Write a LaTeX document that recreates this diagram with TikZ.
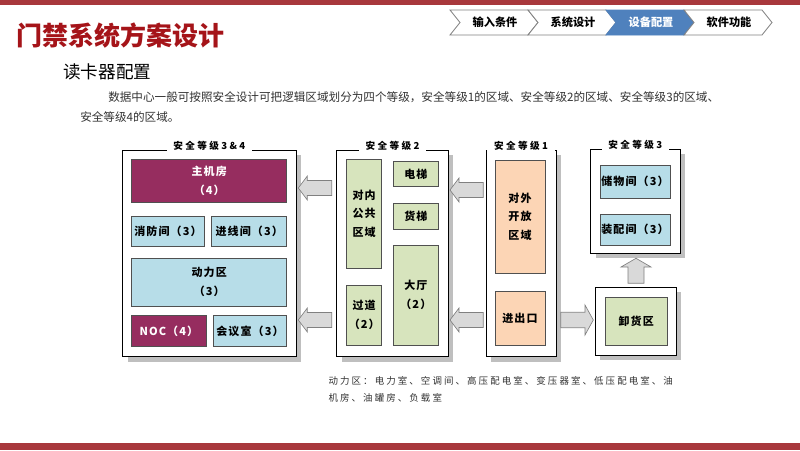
\documentclass[tikz,border=0pt]{standalone}
\usepackage{fontspec}
\setmainfont{Noto Sans CJK SC}
\newfontfamily\labfont[LetterSpace=10]{Noto Sans CJK SC}
\newfontfamily\ttlfont[LetterSpace=25]{Noto Sans CJK SC}
\newfontfamily\capfont[LetterSpace=22]{Noto Sans CJK SC}
\definecolor{barred}{RGB}{168,56,60}
\definecolor{titlered}{RGB}{165,20,25}
\definecolor{maroon}{RGB}{150,45,95}
\definecolor{lblue}{RGB}{183,221,232}
\definecolor{lgreen}{RGB}{215,228,189}
\definecolor{peach}{RGB}{252,213,181}
\definecolor{chevblue}{RGB}{79,129,189}
\definecolor{shadowgray}{RGB}{191,191,191}
\definecolor{arrowgray}{RGB}{217,217,217}
\definecolor{txtgray}{RGB}{50,50,50}
\definecolor{boxline}{RGB}{80,80,80}
\tikzset{
  outerbox/.style={draw=black, line width=0.6pt, fill=white, inner sep=0pt},
  zonetitle/.style={fill=white, inner xsep=5pt, inner ysep=1pt, font=\ttlfont\bfseries\fontsize{7.2}{8}\selectfont},
  room/.style={draw=boxline, line width=0.6pt, inner sep=0pt, align=center,
     font=\labfont\bfseries\fontsize{8.25}{14}\selectfont},
  redroom/.style={room, fill=maroon, text=white},
  blueroom/.style={room, fill=lblue},
  greenroom/.style={room, fill=lgreen},
  peachroom/.style={room, fill=peach},
  blockarrow/.style={draw=gray, line width=0.5pt, fill=arrowgray, line join=miter},
  chevwhite/.style={draw=gray, line width=0.6pt, fill=white},
  chevfill/.style={draw=chevblue, line width=0.6pt, fill=chevblue},
  chevtext/.style={font=\bfseries\fontsize{8.4}{10}\selectfont, inner sep=0pt},
}
\newcommand\zbox[7]{%
  \pgfmathsetmacro\zw{(#4-#2)*0.75}\pgfmathsetmacro\zh{(#5-#3)*0.75}%
  \node[#6, minimum width=\zw pt, minimum height=\zh pt] (#1) at ({(#2+#4)/2},{(#3+#5)/2}) {#7};}
\newcommand\zonebox[6]{%
  \fill[shadowgray] (#2+5,#3+5) rectangle (#4+5,#5+5);
  \zbox{#1}{#2}{#3}{#4}{#5}{outerbox}{}
  \node[zonetitle] (#1t) at ({(#2+#4)/2},#3-4) {#6};}
\newcommand\larrow[3]{%
  \draw[blockarrow] (#1,#2) -- (#1+9,#2-12) -- (#1+9,#2-7.5) -- (#3,#2-7.5) -- (#3,#2+7.5) -- (#1+9,#2+7.5) -- (#1+9,#2+12) -- cycle;}
\newcommand\chev[4]{%
  \draw[#2] (#1,10) -- (#1+78,10) -- (#1+88,22.5) -- (#1+78,35) -- (#1,35) -- (#1+10,22.5) -- cycle;
  \node[chevtext] (#3) at (#1+45,22.5) {#4};}
\begin{document}
\begin{tikzpicture}[x=0.75pt,y=-0.75pt]
\useasboundingbox (0,0) rectangle (800,450);
% bars
\fill[barred] (0,0) rectangle (800,5);
\fill[barred] (0,443) rectangle (800,450);
% titles
\node[anchor=west, inner sep=0pt, text=titlered, font=\bfseries\fontsize{19.5}{22}\selectfont] (title) at (16,36) {门禁系统方案设计};
\node[anchor=west, inner sep=0pt, font=\fontsize{13.2}{15}\selectfont] (subtitle) at (63,72) {读卡器配置};
\node[anchor=west, inner sep=0pt, text=txtgray, font=\fontsize{8.7}{11}\selectfont] (para1) at (108,97) {数据中心一般可按照安全设计可把逻辑区域划分为四个等级，安全等级1的区域、安全等级2的区域、安全等级3的区域、};
\node[anchor=west, inner sep=0pt, text=txtgray, font=\fontsize{8.7}{11}\selectfont] (para2) at (80,117) {安全等级4的区域。};
% chevrons
\chev{450}{chevwhite}{c1}{输入条件}
\chev{528}{chevwhite}{c2}{系统设计}
\chev{606}{chevfill}{c3}{\textcolor{white}{设备配置}}
\chev{684}{chevwhite}{c4}{软件功能}
% zone 3&4
\zonebox{z34}{122.7}{150}{296}{356.7}{安全等级3\&4}
\zbox{zhuji}{131.7}{159.3}{286.7}{202.7}{redroom}{主机房\\（4）}
\zbox{xiaofang}{131.7}{216}{204.3}{246.7}{blueroom}{消防间（3）}
\zbox{jinxian}{211.7}{216}{286.7}{246.7}{blueroom}{进线间（3）}
\zbox{dongli}{131.7}{258.3}{286.7}{306}{blueroom}{动力区\\（3）}
\zbox{noc}{131.7}{315.7}{206}{346.7}{redroom}{NOC（4）}
\zbox{huiyi}{213.3}{315.7}{286.7}{346.7}{blueroom}{会议室（3）}
% zone 2
\zonebox{z2}{336.7}{150}{448.3}{356.7}{安全等级2}
\zbox{duinei}{346.7}{159.3}{381.7}{268.3}{greenroom}{对内\\公共\\区域}
\zbox{dianti}{393.3}{161.7}{438.3}{186.7}{greenroom}{电梯}
\zbox{huoti}{393.3}{203.3}{438.3}{229}{greenroom}{货梯}
\zbox{dating}{393.3}{245}{438.3}{345}{greenroom}{大厅\\（2）}
\zbox{guodao}{346.7}{285}{381.7}{345}{greenroom}{过道\\（2）}
% zone 1
\zonebox{z1}{486}{150}{556}{356.7}{安全等级1}
\zbox{duiwai}{495}{160}{545}{273.3}{peachroom}{对外\\开放\\区域}
\zbox{jinchu}{495}{291.7}{545}{345}{peachroom}{进出口}
% zone 3
\zonebox{z3}{590.7}{149}{680}{253.3}{安全等级3}
\zbox{chuwu}{600}{165}{670}{198.3}{blueroom}{储物间（3）}
\zbox{zhuangpei}{600}{214}{670}{245}{blueroom}{装配间（3）}
% unloading
\fill[shadowgray] (600,292.3) rectangle (681,360);
\zbox{xiehuo}{595}{287.3}{676}{355}{outerbox}{}
\zbox{xiehuoin}{605}{297.3}{667.3}{345}{greenroom}{卸货区}
% arrows
\larrow{298.3}{188}{331.7}
\larrow{298.3}{320}{331.7}
\larrow{450}{190}{483.3}
\larrow{450}{320}{483.3}
\draw[blockarrow] (593.3,320) -- (585,305) -- (585,312.3) -- (560.7,312.3) -- (560.7,327.7) -- (585,327.7) -- (585,335) -- cycle;
\draw[blockarrow] (636,258.3) -- (651,267) -- (644,267) -- (644,283.3) -- (628,283.3) -- (628,267) -- (621,267) -- cycle;
% caption
\node[anchor=west, inner sep=0pt, text=txtgray, font=\capfont\fontsize{7.1}{9}\selectfont] (cap1) at (328.3,381) {动力区：电力室、空调间、高压配电室、变压器室、低压配电室、油};
\node[anchor=west, inner sep=0pt, text=txtgray, font=\capfont\fontsize{7.1}{9}\selectfont] (cap2) at (328.3,398) {机房、油罐房、负载室};
\end{tikzpicture}
\end{document}
